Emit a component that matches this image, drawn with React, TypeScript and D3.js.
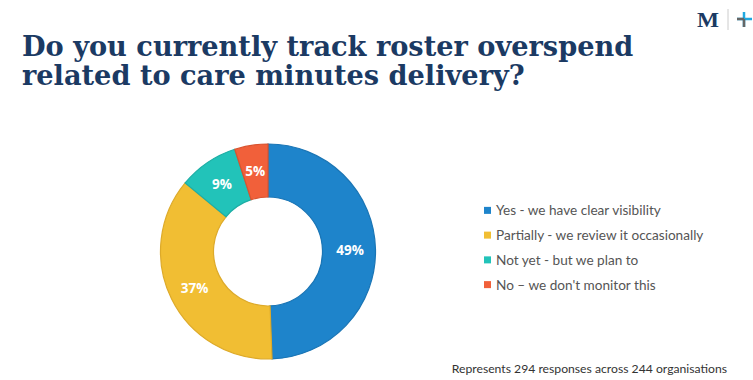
import React from "react";
import * as d3 from "d3";

const categories = [
  "Yes - we have clear visibility",
  "Partially - we review it occasionally",
  "Not yet - but we plan to",
  "No – we don't monitor this",
];
const values = [49.4, 36.6, 9.0, 5.0];
const colors = ["#1E84CB", "#F1BE33", "#22C3B9", "#F1603A"];
const strokes = ["#1A75B5", "#DDAA2A", "#1DAEA5", "#D9532F"];
const titleLines = [
  "Do you currently track roster overspend",
  "related to care minutes delivery?",
];
const footnote = "Represents 294 responses across 244 organisations";

export default function App() {
  const W = 753, H = 380;
  const cx = 268, cy = 251.5, rOuter = 107.5, rInner = 54.5;
  const pie = d3.pie<number>().sort(null).value((d) => d)(values);
  const arc = d3.arc<d3.PieArcDatum<number>>().innerRadius(rInner).outerRadius(rOuter);
  const labelArc = d3.arc<d3.PieArcDatum<number>>().innerRadius(82).outerRadius(82);
  const legendY = d3.scaleBand<number>().domain(d3.range(categories.length)).range([198, 297]);

  return (
    <div style={{ position: "absolute", left: 0, top: 0 }}>
      <svg width={W} height={H} style={{ display: "block", background: "#fff" }}>
        {titleLines.map((t, i) => (
          <text
            key={i}
            x={22}
            y={56 + i * 29}
            fontFamily="'DejaVu Serif', serif"
            fontWeight="bold"
            fontSize={27.2}
            fill="#1B3A63"
          >
            {t}
          </text>
        ))}
        {/* logo */}
        <text x={697} y={27} fontFamily="'Liberation Serif', serif" fontWeight="bold" fontSize={20} fill="#1B3A63" textLength={22} lengthAdjust="spacingAndGlyphs">M</text>
        <line x1={728} x2={728} y1={9} y2={30} stroke="#ccc" strokeWidth={1} />
        <line x1={737} x2={752} y1={19} y2={19} stroke="#1FA9E1" strokeWidth={2.5} />
        <line x1={744} x2={744} y1={12} y2={27} stroke="#1FA9E1" strokeWidth={2.5} />
        <line x1={737} x2={744} y1={19} y2={19} stroke="#666" strokeWidth={2.5} />
        <line x1={744} x2={744} y1={19} y2={27} stroke="#666" strokeWidth={2.5} />

        <g transform={`translate(${cx},${cy})`}>
          {pie.map((p, i) => (
            <path key={i} d={arc(p) || ""} fill={colors[i]} stroke={strokes[i]} strokeWidth={1.2} />
          ))}
          {pie.map((p, i) => {
            const [x, y] = labelArc.centroid(p);
            return (
              <text
                key={"l" + i}
                x={x}
                y={y}
                textAnchor="middle"
                dominantBaseline="central"
                fontFamily="'Open Sans', sans-serif"
                fontWeight="bold"
                fontSize={13.5}
                fill="#fff"
              >
                {Math.round(p.data)}%
              </text>
            );
          })}
        </g>

        {categories.map((c, i) => {
          const y = (legendY(i) || 0) + legendY.bandwidth() / 2;
          return (
            <g key={"lg" + i}>
              <rect x={484} y={y - 3.5} width={7} height={7} fill={colors[i]} />
              <text
                x={496}
                y={y}
                dominantBaseline="central"
                fontFamily="Lato, sans-serif"
                fontSize={13.6}
                fill="#555"
              >
                {c}
              </text>
            </g>
          );
        })}

        <text x={727} y={373} textAnchor="end" fontFamily="Lato, sans-serif" fontSize={12.2} fill="#333">
          {footnote}
        </text>
      </svg>
    </div>
  );
}
